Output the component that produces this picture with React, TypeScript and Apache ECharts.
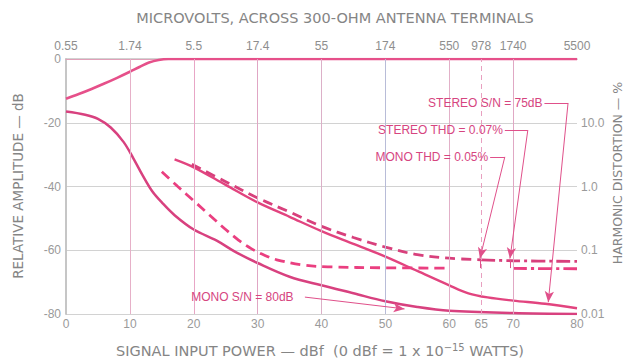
import React, { useEffect, useRef } from "react";
import * as echarts from "echarts";

// ---- data ----
const bottomTicks = [0, 10, 20, 30, 40, 50, 60, 65, 70, 80];
const topTickLabels = ["0.55", "1.74", "5.5", "17.4", "55", "174", "550", "978", "1740", "5500"];
const topTickColors = ["#8c8c8c", "#8f9aa0", "#a07aa8", "#7aa6ac", "#8a7a8a", "#b0509a", "#6aa88a", "#909090", "#909090", "#909090"];
const rightTickLabels: Record<string, string> = { "-20": "10.0", "-40": "1.0", "-60": "0.1", "-80": "0.01" };

const response = [[0, -12.5], [2, -11], [4, -9.4], [6, -7.7], [8, -5.9], [10, -4], [11.5, -2.5], [13, -1.1], [14.5, -0.3], [16, 0], [20, 0], [40, 0], [60, 0], [80, 0]];
const monoSN = [[0, -16.5], [3, -17.5], [5, -18.8], [7, -21.5], [9, -26], [10.5, -31], [12, -36.5], [13.5, -41.5], [15, -45], [17, -49], [20, -53.5], [23.6, -57], [26.5, -60.5], [30, -64], [35, -68.3], [40, -71], [45, -73.5], [50, -76], [55, -77.8], [60, -79], [70, -79.7], [80, -80]];
const stereoSN = [[17, -31.5], [20, -34], [25, -39.5], [30, -45], [35, -49.5], [40, -54], [45, -58], [50, -62], [55, -66.5], [60, -71], [63, -73.5], [66, -74.8], [70, -75.8], [75, -76.8], [80, -78.2]];
const stereoTHD = [[19.7, -33], [25, -38.5], [30, -43.6], [35, -48], [40, -52.5], [45, -56], [50, -59], [55, -61.4], [60, -62.5], [65, -63], [70, -63.3], [80, -63.5]];
const monoTHD = [[15, -35.4], [17.5, -40], [20, -44.5], [22.5, -49], [25, -53.5], [27, -56.8], [29, -59.5], [31, -61.5], [33, -63], [37, -64.6], [41, -65.2], [50, -65.5], [60, -65.6], [70, -65.7], [80, -65.8]];

const gridX = [10, 20, 30, 40, 50, 60, 70];
const gridXColors = ["#e6b0c8", "#e8a6c6", "#e0a6c4", "#dcb0c8", "#b8bcd8", "#e2b0c8", "#e0a8c4"];
const dashedGridX = 65;

const annotationLabels = ["STEREO S/N = 75dB", "STEREO THD = 0.07%", "MONO THD = 0.05%", "MONO S/N = 80dB"];
const labelAnchors = [[74.6, -13.8], [68.4, -22.3], [66.1, -30.7], [19.6, -74.7]];
const leaderSegments = [
  // [from, to, arrow]
  [[74.9, -13.8], [78.6, -13.8], 0],
  [[78.6, -13.8], [75.5, -76.3], 1],
  [[68.7, -22.3], [72.3, -22.3], 0],
  [[72.3, -22.3], [69.5, -62.6], 1],
  [[69.5, -63], [69.5, -65.6], 0],
  [[66.4, -30.7], [68.7, -30.7], 0],
  [[68.7, -30.7], [64.8, -62.6], 1],
  [[64.8, -63], [64.8, -65.6], 0],
  [[37.4, -74.7], [53, -78.4], 1],
];

const PINK = "#e2447f";
const PINK2 = "#d8417f";
const GREY = "#8e8e8e";
const FONT = "Liberation Sans";
const TFONT = "DejaVu Sans";

export default function App() {
  const ref = useRef<HTMLDivElement>(null);
  useEffect(() => {
    if (!ref.current) return;
    const chart = echarts.init(ref.current, null, { renderer: "svg" });
    const solid = (name: string, data: number[][], color: string, width = 2.4) => ({
      name, type: "line", data, smooth: 0.35, symbol: "none", xAxisIndex: 0, yAxisIndex: 0,
      lineStyle: { color, width }, z: 3,
    });
    const dashed = (name: string, data: number[][], color: string, pattern: number[]) => ({
      name, type: "line", data, smooth: 0.35, symbol: "none", xAxisIndex: 0, yAxisIndex: 0,
      lineStyle: { color, width: 2.8, type: pattern }, z: 3,
    });
    const tailStart = 62;
    const option: any = {
      animation: false,
      grid: { left: 66, right: 48, top: 59, bottom: 47, outerBoundsMode: "none" },
      xAxis: [
        {
          type: "value", min: 0, max: 80, interval: 5, position: "bottom",
          axisLine: { show: true, lineStyle: { color: "#c4c4c4", width: 1.5 } },
          axisTick: { show: false }, splitLine: { show: false },
          axisLabel: {
            margin: 4, color: "#9a9a9a", fontFamily: FONT, fontSize: 12,
            formatter: (v: number) => (bottomTicks.indexOf(v) >= 0 ? String(v) : ""),
          },
        },
        {
          type: "value", min: 0, max: 80, interval: 5, position: "top",
          axisLine: { show: true, lineStyle: { color: "#e0a0b8", width: 1 } },
          axisTick: { show: false }, splitLine: { show: false },
          axisLabel: {
            margin: 7, fontFamily: FONT, fontSize: 12,
            color: (v: number) => { const i = bottomTicks.indexOf(v); return i >= 0 ? topTickColors[i] : GREY; },
            formatter: (v: number) => { const i = bottomTicks.indexOf(v); return i >= 0 ? topTickLabels[i] : ""; },
          },
        },
      ],
      yAxis: [
        {
          type: "value", min: -80, max: 0, interval: 20, position: "left",
          axisLine: { show: true, lineStyle: { color: "#b8b8b8", width: 1.5 } },
          axisTick: { show: false },
          splitLine: { show: true, lineStyle: { color: "#d2d2d2", width: 1 } },
          axisLabel: { margin: 5, color: "#9a9a9a", fontFamily: FONT, fontSize: 12 },
        },
        {
          type: "value", min: -80, max: 0, interval: 20, position: "right",
          axisLine: { show: true, lineStyle: { color: "#c4c4c4", width: 1.5 } },
          axisTick: { show: false }, splitLine: { show: false },
          axisLabel: {
            margin: 4, color: "#9a9a9a", fontFamily: FONT, fontSize: 12,
            formatter: (v: number) => rightTickLabels[String(v)] ?? "",
          },
        },
      ],
      series: [
        {
          name: "grid", type: "line", data: [], xAxisIndex: 0, yAxisIndex: 0, z: 1,
          markLine: {
            silent: true, symbol: ["none", "none"], label: { show: false },
            data: [
              ...gridX.map((x, i) => ({ xAxis: x, lineStyle: { color: gridXColors[i], width: 1, type: "solid" } })),
              { xAxis: dashedGridX, lineStyle: { color: "#e8a0c0", width: 1, type: [5, 4] } },
            ],
          },
        },
        solid("response", response, "#e6508a", 2.6),
        solid("monoSN", monoSN, PINK2, 2.5),
        solid("stereoSN", stereoSN, PINK, 2.4),
        dashed("stereoTHD", stereoTHD.filter((p) => p[0] <= tailStart + 3), "#d8407c", [10, 6]),
        dashed("stereoTHDtail", stereoTHD.filter((p) => p[0] >= tailStart + 3), "#d8407c", [14, 4, 3, 4]),
        dashed("monoTHD", monoTHD.filter((p) => p[0] <= tailStart), "#ea3f80", [10, 6]),
        dashed("monoTHDtail", monoTHD.filter((p) => p[0] >= tailStart), "#ea3f80", [14, 4, 3, 4]),
        {
          name: "annotations", type: "line", data: [], xAxisIndex: 0, yAxisIndex: 0, z: 5,
          markLine: {
            silent: true, symbol: ["none", "none"], label: { show: false },
            lineStyle: { color: "#e0508a", width: 1, type: "solid" },
            data: leaderSegments.map((s: any) => [
              { coord: s[0], symbol: "none" },
              { coord: s[1], symbol: s[2] ? "arrow" : "none", symbolSize: s[2] ? [7, 11] : 0 },
            ]),
          },
          markPoint: {
            silent: true,
            data: annotationLabels.map((t, i) => ({
              coord: labelAnchors[i], symbol: "circle", symbolSize: 0,
              label: {
                show: true, formatter: t, position: i === 3 ? "right" : "left", distance: 0,
                color: "#d6457f", fontFamily: FONT, fontSize: 12,
              },
            })),
          },
        },
      ],
      graphic: [
        { type: "text", x: 335, y: 18, style: { text: "MICROVOLTS, ACROSS 300-OHM ANTENNA TERMINALS", fill: "#858585", font: `14.5px "${TFONT}"`, align: "center", verticalAlign: "middle" } },
        {
          type: "text", x: 320, y: 351,
          style: {
            text: "SIGNAL INPUT POWER — dBf  (0 dBf = 1 x 10{s|−15} WATTS)", fill: "#858585",
            font: `14.5px "${TFONT}"`, align: "center", verticalAlign: "middle",
            rich: { s: { fontSize: 10, verticalAlign: "top", padding: [0, 0, 8, 0], fill: "#858585", fontFamily: TFONT } },
          },
        },
        { type: "text", x: 18, y: 186, rotation: Math.PI / 2, style: { text: "RELATIVE AMPLITUDE — dB", fill: "#858585", font: `13.5px "${TFONT}"`, align: "center", verticalAlign: "middle" } },
        { type: "text", x: 617, y: 173, rotation: Math.PI / 2, style: { text: "HARMONIC DISTORTION — %", fill: "#858585", font: `12.5px "${TFONT}"`, align: "center", verticalAlign: "middle" } },
      ],
    };
    chart.setOption(option);
    return () => chart.dispose();
  }, []);
  return <div ref={ref} style={{ position: "fixed", left: 0, top: 0, width: 625, height: 361, background: "#fff" }} />;
}
